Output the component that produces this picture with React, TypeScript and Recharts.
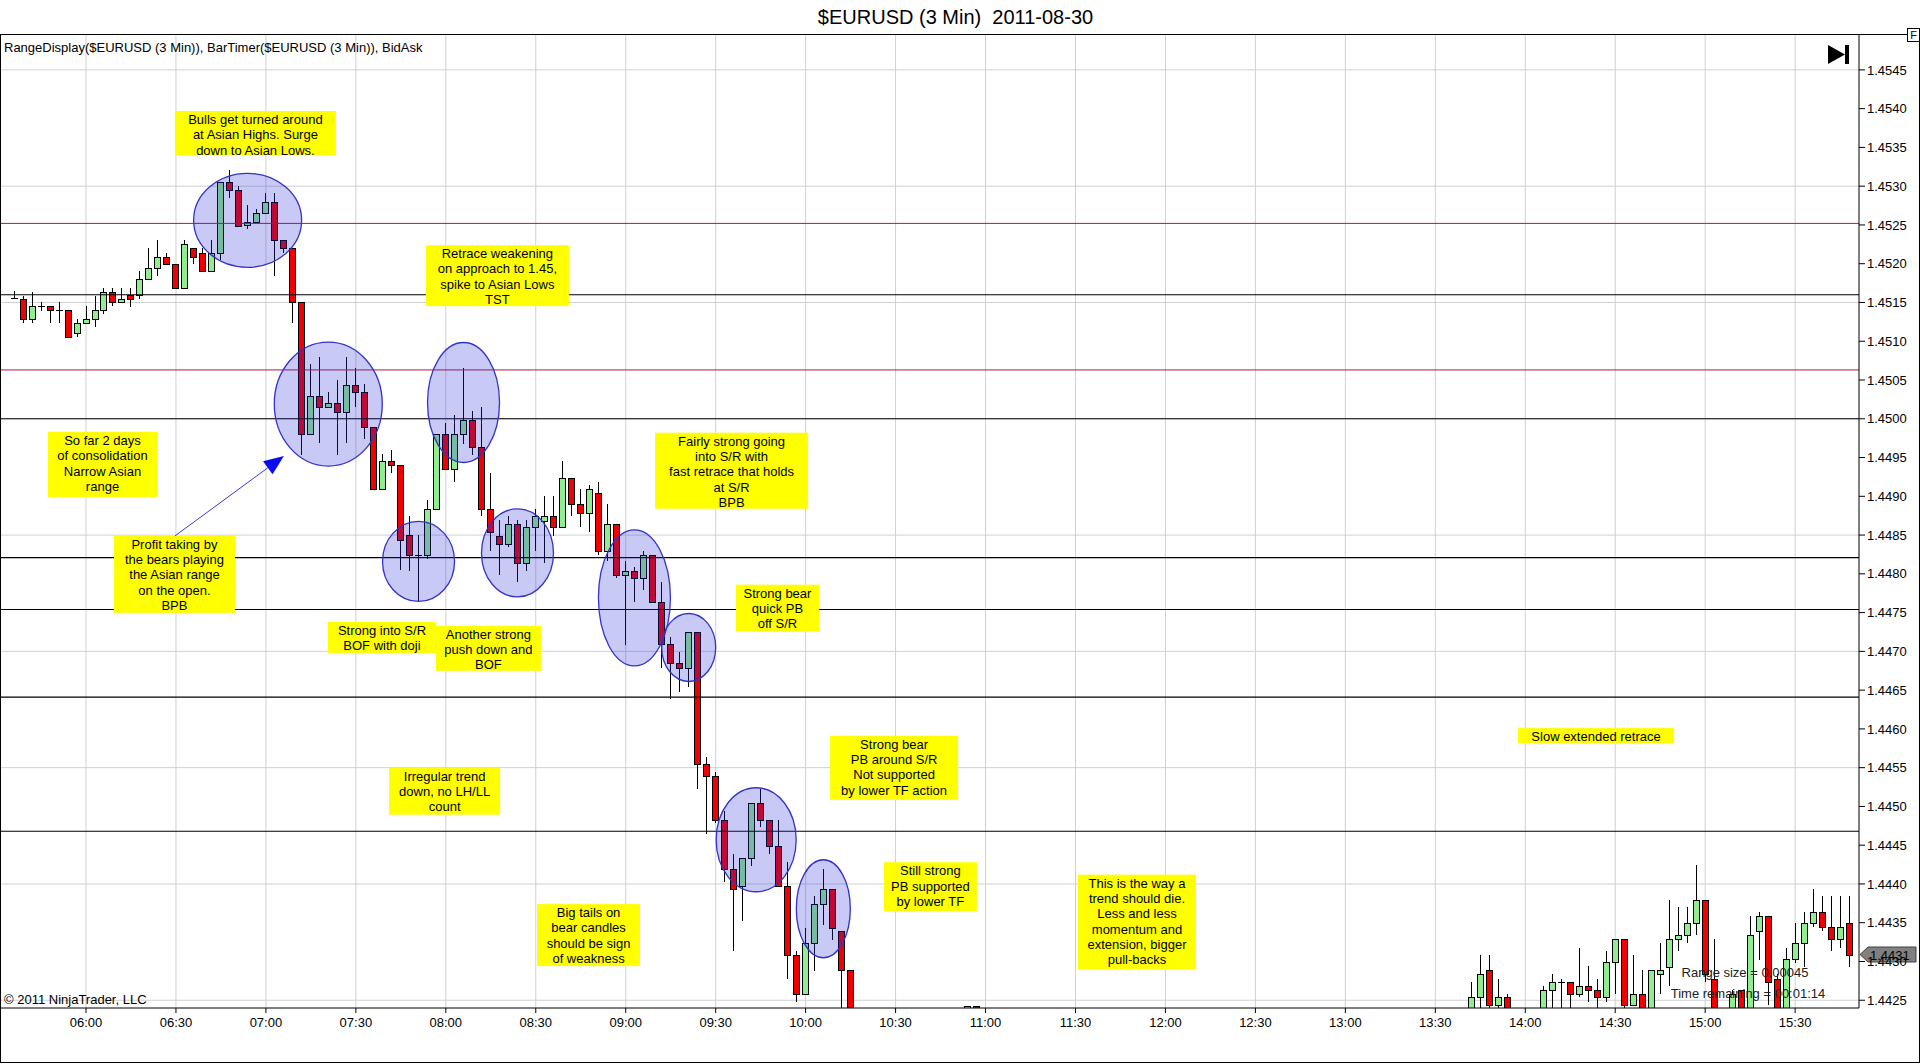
import React from "react";
import {
  ComposedChart,
  Bar,
  XAxis,
  YAxis,
  CartesianGrid,
  ReferenceLine,
  ReferenceDot,
} from "recharts";

const FONT = "'Liberation Sans', Arial, sans-serif";
const GREEN = "#90ee90";
const RED = "#f00000";

// 3 min bars, stamped at bar close. Bars under the chart bottom (10:18-13:39) are not visible.
const times = [
  "05:36", "05:39", "05:42", "05:45", "05:48", "05:51", "05:54", "05:57",
  "06:00", "06:03", "06:06", "06:09", "06:12", "06:15", "06:18", "06:21", "06:24", "06:27",
  "06:30", "06:33", "06:36", "06:39", "06:42", "06:45", "06:48", "06:51", "06:54", "06:57",
  "07:00", "07:03", "07:06", "07:09", "07:12", "07:15", "07:18", "07:21", "07:24", "07:27",
  "07:30", "07:33", "07:36", "07:39", "07:42", "07:45", "07:48", "07:51", "07:54", "07:57",
  "08:00", "08:03", "08:06", "08:09", "08:12", "08:15", "08:18", "08:21", "08:24", "08:27",
  "08:30", "08:33", "08:36", "08:39", "08:42", "08:45", "08:48", "08:51", "08:54", "08:57",
  "09:00", "09:03", "09:06", "09:09", "09:12", "09:15", "09:18", "09:21", "09:24", "09:27",
  "09:30", "09:33", "09:36", "09:39", "09:42", "09:45", "09:48", "09:51", "09:54", "09:57",
  "10:00", "10:03", "10:06", "10:09", "10:12", "10:15",
  "10:54", "10:57",
  "13:42", "13:45", "13:48", "13:51", "13:54",
  "14:06", "14:09", "14:12", "14:15", "14:18", "14:21", "14:24", "14:27",
  "14:30", "14:33", "14:36", "14:39", "14:42", "14:45", "14:48", "14:51", "14:54", "14:57",
  "15:00", "15:03", "15:09", "15:12", "15:15", "15:18", "15:21", "15:24", "15:27",
  "15:30", "15:33", "15:36", "15:39", "15:42", "15:45", "15:48",
];

const opens = [
  1.45156, 1.45155, 1.45129, 1.45145, 1.45145, 1.4514, 1.4514, 1.4511,
  1.45124, 1.45129, 1.4514, 1.45164, 1.4515, 1.4516, 1.4516, 1.4518, 1.45195, 1.45209,
  1.452, 1.45169, 1.4522, 1.45214, 1.4519, 1.45214, 1.45305, 1.45295, 1.4525, 1.45254,
  1.45265, 1.4528, 1.4523, 1.4522, 1.4515, 1.4498, 1.4503, 1.45015, 1.4502, 1.45009,
  1.45044, 1.45034, 1.4499, 1.44909, 1.44945, 1.4494, 1.4485, 1.44824, 1.44824, 1.44884,
  1.4498, 1.44935, 1.4498, 1.44999, 1.44964, 1.44884, 1.44849, 1.44839, 1.44864, 1.44814,
  1.4486, 1.44868, 1.44874, 1.4486, 1.44924, 1.4489, 1.44879, 1.44904, 1.44829, 1.44864,
  1.44799, 1.44804, 1.44794, 1.44824, 1.44764, 1.4471, 1.44685, 1.44679, 1.44725, 1.44555,
  1.44539, 1.44483, 1.44419, 1.44398, 1.44433, 1.44504, 1.44483, 1.44449, 1.44398, 1.44308,
  1.44258, 1.44324, 1.44374, 1.44393, 1.44339, 1.44289,
  1.44225, 1.44243,
  1.44232, 1.44254, 1.44289, 1.44244, 1.44254,
  1.44235, 1.44263, 1.44273, 1.44273, 1.44258, 1.44269, 1.44263, 1.44254,
  1.44299, 1.44329, 1.44244, 1.44258, 1.44235, 1.44284, 1.44293, 1.44329, 1.44334, 1.44349,
  1.44379, 1.44278, 1.44235, 1.44263, 1.44235, 1.44339, 1.44359, 1.44278, 1.44235,
  1.44303, 1.44324, 1.44349, 1.44364, 1.44344, 1.44329, 1.44349,
];

const highs = [
  1.45165, 1.45159, 1.45164, 1.4515, 1.45145, 1.4515, 1.4514, 1.45129,
  1.45145, 1.45159, 1.45169, 1.45169, 1.45169, 1.45169, 1.4519, 1.4522, 1.4523, 1.45214,
  1.452, 1.4523, 1.4522, 1.4522, 1.4523, 1.45305, 1.45321, 1.453, 1.45276, 1.4527,
  1.45291, 1.45291, 1.4523, 1.4522, 1.4515, 1.45071, 1.4508, 1.45034, 1.4505, 1.4508,
  1.45065, 1.45045, 1.4499, 1.44954, 1.4496, 1.4494, 1.44874, 1.4485, 1.44895, 1.4498,
  1.44995, 1.45005, 1.45065, 1.4501, 1.45015, 1.4493, 1.44869, 1.44874, 1.44869, 1.44869,
  1.44884, 1.44901, 1.44901, 1.44945, 1.44924, 1.44909, 1.44914, 1.44919, 1.4489, 1.44864,
  1.44816, 1.44809, 1.44829, 1.44824, 1.4479, 1.44719, 1.44699, 1.44725, 1.44725, 1.44564,
  1.44545, 1.44494, 1.44439, 1.44433, 1.44504, 1.44523, 1.44483, 1.44483, 1.44428, 1.44314,
  1.44343, 1.44385, 1.44419, 1.44393, 1.44339, 1.44289,
  1.44243, 1.44243,
  1.44273, 1.44309, 1.44309, 1.44278, 1.44258,
  1.44269, 1.44284, 1.44278, 1.44273, 1.44318, 1.44294, 1.44278, 1.44314,
  1.44329, 1.44329, 1.44309, 1.44289, 1.44289, 1.44324, 1.44379, 1.4437, 1.4437, 1.44425,
  1.44379, 1.44329, 1.44263, 1.44263, 1.44359, 1.44364, 1.44359, 1.44284, 1.44318,
  1.44349, 1.44364, 1.44394, 1.44385, 1.44385, 1.44385, 1.44385,
];

const lows = [
  1.45155, 1.45124, 1.45124, 1.45139, 1.45124, 1.45124, 1.45105, 1.45105,
  1.45124, 1.45119, 1.45135, 1.45145, 1.4515, 1.45144, 1.45155, 1.4518, 1.45184, 1.452,
  1.45169, 1.45169, 1.452, 1.4519, 1.4519, 1.45205, 1.45285, 1.45249, 1.45245, 1.45254,
  1.45265, 1.45184, 1.45214, 1.45124, 1.44953, 1.4498, 1.44969, 1.45015, 1.44953, 1.44969,
  1.45015, 1.44974, 1.44909, 1.44909, 1.4493, 1.44805, 1.44804, 1.44765, 1.44819, 1.44884,
  1.44935, 1.44919, 1.44967, 1.44953, 1.44874, 1.44829, 1.44798, 1.44834, 1.44789, 1.44804,
  1.44829, 1.44814, 1.44849, 1.4486, 1.44874, 1.4486, 1.44854, 1.44824, 1.44816, 1.44794,
  1.44708, 1.44764, 1.44779, 1.44764, 1.44679, 1.44639, 1.44648, 1.44654, 1.44523, 1.44465,
  1.44478, 1.44403, 1.44313, 1.44352, 1.44423, 1.44473, 1.44438, 1.44398, 1.44278, 1.44248,
  1.44258, 1.44288, 1.44347, 1.44328, 1.4423, 1.4421,
  1.4421, 1.4421,
  1.44225, 1.44235, 1.44235, 1.44235, 1.4423,
  1.4423, 1.44235, 1.44235, 1.44235, 1.44254, 1.44248, 1.44235, 1.44248,
  1.44258, 1.44235, 1.44244, 1.4423, 1.4423, 1.44258, 1.44268, 1.44314, 1.44324, 1.44334,
  1.44274, 1.4423, 1.4423, 1.4423, 1.4423, 1.44302, 1.44244, 1.4423, 1.4423,
  1.44298, 1.44293, 1.44344, 1.44339, 1.44314, 1.44318, 1.44293,
];

const closes = [
  1.45156, 1.45129, 1.45145, 1.45145, 1.4514, 1.4514, 1.45105, 1.45124,
  1.45129, 1.4514, 1.45164, 1.4515, 1.45155, 1.45155, 1.4518, 1.45195, 1.45209, 1.452,
  1.45169, 1.45225, 1.45209, 1.4519, 1.45214, 1.45305, 1.45295, 1.45249, 1.45254, 1.45265,
  1.4528, 1.4523, 1.4522, 1.4515, 1.4498, 1.4503, 1.45015, 1.4502, 1.45009, 1.45044,
  1.45034, 1.4499, 1.44909, 1.44945, 1.4494, 1.44844, 1.44824, 1.44824, 1.44884, 1.4498,
  1.44935, 1.4498, 1.44999, 1.44964, 1.44884, 1.44854, 1.44839, 1.44864, 1.44814, 1.4486,
  1.44874, 1.44874, 1.4486, 1.44924, 1.4489, 1.44879, 1.44909, 1.44829, 1.44864, 1.44799,
  1.44804, 1.44794, 1.44824, 1.44764, 1.4471, 1.44685, 1.44679, 1.44725, 1.44555, 1.44539,
  1.44483, 1.44419, 1.44393, 1.44433, 1.44504, 1.44483, 1.44449, 1.44398, 1.44308, 1.44258,
  1.44324, 1.44374, 1.44393, 1.44343, 1.44289, 1.4422,
  1.44243, 1.4422,
  1.44254, 1.44284, 1.44244, 1.44254, 1.44235,
  1.44263, 1.44273, 1.44273, 1.44258, 1.44269, 1.44263, 1.44254, 1.44299,
  1.44329, 1.44244, 1.44258, 1.44235, 1.44289, 1.44289, 1.44329, 1.44334, 1.44349, 1.44379,
  1.44284, 1.44235, 1.44258, 1.44235, 1.44334, 1.44359, 1.44273, 1.44235, 1.44303,
  1.44324, 1.44349, 1.44364, 1.44344, 1.44329, 1.44344, 1.44309,
];

const timeTicks = [
  "06:00", "06:30", "07:00", "07:30", "08:00", "08:30", "09:00", "09:30", "10:00", "10:30",
  "11:00", "11:30", "12:00", "12:30", "13:00", "13:30", "14:00", "14:30", "15:00", "15:30",
];

const priceTicks = [
  1.4425, 1.443, 1.4435, 1.444, 1.4445, 1.445, 1.4455, 1.446, 1.4465, 1.447, 1.4475, 1.448, 1.4485,
  1.449, 1.4495, 1.45, 1.4505, 1.451, 1.4515, 1.452, 1.4525, 1.453, 1.4535, 1.454, 1.4545,
];
const gridPrices = [1.4425, 1.444, 1.4455, 1.447, 1.4485, 1.45, 1.4515, 1.453, 1.4545];

// hand drawn S/R lines
const srLevels = [1.4516, 1.45, 1.44821, 1.44754, 1.44641, 1.44468];
const asianLevels = [1.45252, 1.45063];

// circled areas: centre (time, price), radii in px
const highlights = [
  { at: "06:53:54", price: 1.45256, rx: 54, ry: 47 },
  { at: "07:20:48", price: 1.45019, rx: 54, ry: 62 },
  { at: "07:50:54", price: 1.44816, rx: 36, ry: 40 },
  { at: "08:05:54", price: 1.45021, rx: 36, ry: 60 },
  { at: "08:23:54", price: 1.44827, rx: 36, ry: 44 },
  { at: "09:02:54", price: 1.44769, rx: 36, ry: 68 },
  { at: "09:21:00", price: 1.44705, rx: 27, ry: 34 },
  { at: "09:43:30", price: 1.44457, rx: 40, ry: 52 },
  { at: "10:05:54", price: 1.44368, rx: 27, ry: 49 },
];

// yellow notes: top centre (time, price), box size in px
const notes = [
  { at: "06:56:30", price: 1.45397, w: 161, h: 44, lines: ["Bulls get turned around", "at Asian Highs. Surge", "down to Asian Lows."] },
  { at: "08:17:12", price: 1.45224, w: 143, h: 61, lines: ["Retrace weakening", "on approach to 1.45,", "spike to Asian Lows", "TST"] },
  { at: "06:05:30", price: 1.44983, w: 109, h: 65, lines: ["So far 2 days", "of consolidation", "Narrow Asian", "range"] },
  { at: "06:29:30", price: 1.44849, w: 121, h: 77, lines: ["Profit taking by", "the bears playing", "the Asian range", "on the open.", "BPB"] },
  { at: "07:38:42", price: 1.44738, w: 108, h: 31, lines: ["Strong into S/R", "BOF with doji"] },
  { at: "08:14:12", price: 1.44733, w: 105, h: 45, lines: ["Another strong", "push down and", "BOF"] },
  { at: "09:35:18", price: 1.44982, w: 153, h: 76, lines: ["Fairly strong going", "into S/R with", "fast retrace that holds", "at S/R", "BPB"] },
  { at: "09:50:36", price: 1.44786, w: 83, h: 47, lines: ["Strong bear", "quick PB", "off S/R"] },
  { at: "10:29:30", price: 1.44591, w: 128, h: 64, lines: ["Strong bear", "PB around S/R", "Not supported", "by lower TF action"] },
  { at: "07:59:36", price: 1.4455, w: 111, h: 47, lines: ["Irregular trend", "down, no LH/LL", "count"] },
  { at: "10:41:36", price: 1.44428, w: 93, h: 49, lines: ["Still strong", "PB supported", "by lower TF"] },
  { at: "08:47:36", price: 1.44374, w: 103, h: 62, lines: ["Big tails on", "bear candles", "should be sign", "of weakness"] },
  { at: "11:50:30", price: 1.44412, w: 118, h: 95, lines: ["This is the way a", "trend should die.", "Less and less", "momentum and", "extension, bigger", "pull-backs"] },
  { at: "14:23:36", price: 1.44601, w: 156, h: 15, lines: ["Slow extended retrace"] },
];

const arrowFrom = { at: "06:29:42", price: 1.44849 };
const arrowTo = { at: "07:06:00", price: 1.44952 };

const toMin = (s: string) => {
  const [h, m, sec] = s.split(":").map(Number);
  return h * 60 + m + (sec || 0) / 60;
};
const fmtTime = (v: number) => {
  const h = Math.floor(v / 60);
  const m = Math.round(v - h * 60);
  return `${String(h).padStart(2, "0")}:${String(m).padStart(2, "0")}`;
};

const candles = times.map((time, i) => ({
  t: toMin(time),
  open: opens[i],
  high: highs[i],
  low: lows[i],
  close: closes[i],
}));

const lastClose = closes[closes.length - 1];
const xDomain = [331.65, 951.3];
const yDomain = [1.4424, 1.45495];

function Candle(props: any) {
  const { x, y, width, height, payload } = props;
  if (!payload || x == null || y == null) return null;
  const { open, high, low, close } = payload;
  const top = Math.min(y, y + height);
  const bottom = Math.max(y, y + height);
  const k = high > low ? (bottom - top) / (high - low) : 0;
  const py = (v: number) => top + (high - v) * k;
  const cx = Math.floor(x + width / 2) + 0.5;
  const bTop = Math.round(py(Math.max(open, close))) + 0.5;
  const bBot = Math.round(py(Math.min(open, close))) + 0.5;
  return (
    <g shapeRendering="crispEdges">
      <line x1={cx} x2={cx} y1={top} y2={bottom} stroke="#000" />
      {open === close ? (
        <line x1={cx - 3.5} x2={cx + 3.5} y1={bTop} y2={bTop} stroke="#000" />
      ) : (
        <rect
          x={cx - 3}
          y={bTop}
          width={6}
          height={Math.max(bBot - bTop, 1)}
          fill={close > open ? GREEN : RED}
          stroke="#000"
        />
      )}
    </g>
  );
}

function Arrow(props: any) {
  const { x1, y1, x2, y2 } = props;
  const dx = x2 - x1;
  const dy = y2 - y1;
  const len = Math.sqrt(dx * dx + dy * dy) || 1;
  const ux = dx / len;
  const uy = dy / len;
  const bx = x2 - ux * 20;
  const by = y2 - uy * 20;
  const head = `${x2},${y2} ${bx - uy * 8},${by + ux * 8} ${bx + uy * 8},${by - ux * 8}`;
  return (
    <g>
      <line x1={x1} y1={y1} x2={bx} y2={by} stroke="#3a3ae0" strokeWidth={1} />
      <polygon points={head} fill="#0a0af5" />
    </g>
  );
}

export default function App() {
  return (
    <div
      style={{
        position: "absolute",
        left: 0,
        top: 0,
        width: 1920,
        height: 1064,
        background: "#fff",
        fontFamily: FONT,
        overflow: "hidden",
      }}
    >
      <div
        style={{
          position: "absolute",
          left: 0,
          top: 6,
          width: 1911,
          textAlign: "center",
          fontSize: 20,
          lineHeight: "23px",
          whiteSpace: "pre",
        }}
      >
        {"$EURUSD (3 Min)  2011-08-30"}
      </div>
      <div
        style={{
          position: "absolute",
          left: 0,
          top: 34,
          width: 1920,
          height: 1029,
          border: "1px solid #000",
          boxSizing: "border-box",
        }}
      />
      <div style={{ position: "absolute", left: 0, top: 0 }}>
        <ComposedChart
          width={1920}
          height={1064}
          data={candles}
          margin={{ top: 35, right: 3, bottom: 26, left: 1 }}
          style={{ fontFamily: FONT }}
        >
          <CartesianGrid
            stroke="#d0d0d0"
            horizontalValues={gridPrices}
            verticalValues={timeTicks.map(toMin)}
          />
          <XAxis
            dataKey="t"
            type="number"
            domain={xDomain}
            allowDataOverflow
            ticks={timeTicks.map(toMin)}
            interval={0}
            tickFormatter={fmtTime}
            height={30}
            tickSize={5}
            tickMargin={5}
            stroke="#000"
            tick={{ fill: "#000", fontSize: 13, fontFamily: FONT }}
          />
          <YAxis
            orientation="right"
            type="number"
            domain={yDomain}
            allowDataOverflow
            ticks={priceTicks}
            interval={0}
            tickFormatter={(v: number) => v.toFixed(4)}
            width={58}
            tickSize={6}
            stroke="#000"
            tick={{ fill: "#000", fontSize: 13, fontFamily: FONT }}
          />
          {asianLevels.map((p) => (
            <ReferenceLine key={`a${p}`} y={p} stroke="#b3173f" strokeWidth={1} />
          ))}
          {srLevels.map((p) => (
            <ReferenceLine key={`s${p}`} y={p} stroke="#000" strokeWidth={1.2} />
          ))}
          <Bar
            dataKey={(d: any) => [d.low, d.high]}
            barSize={7}
            isAnimationActive={false}
            shape={(p: any) => <Candle {...p} />}
          />
          {highlights.map((h, i) => (
            <ReferenceDot
              key={`h${i}`}
              x={toMin(h.at)}
              y={h.price}
              r={2}
              ifOverflow="visible"
              zIndex={1500}
              shape={(p: any) => (
                <ellipse
                  cx={p.cx}
                  cy={p.cy}
                  rx={h.rx}
                  ry={h.ry}
                  fill="rgb(40,40,220)"
                  fillOpacity={0.25}
                  stroke="#3333cc"
                  strokeWidth={1.3}
                />
              )}
            />
          ))}
          {notes.map((n, i) => (
            <ReferenceDot
              key={`n${i}`}
              x={toMin(n.at)}
              y={n.price}
              r={2}
              ifOverflow="visible"
              zIndex={1600}
              shape={(p: any) => (
                <g>
                  <rect x={p.cx - n.w / 2} y={p.cy} width={n.w} height={n.h} fill="#ffff00" />
                  {n.lines.map((ln, j) => (
                    <text
                      key={j}
                      x={p.cx}
                      y={p.cy + 13 + j * 15.3}
                      textAnchor="middle"
                      fontSize={13}
                      fontFamily={FONT}
                      fill="#000"
                    >
                      {ln}
                    </text>
                  ))}
                </g>
              )}
            />
          ))}
          <ReferenceLine
            segment={[
              { x: toMin(arrowFrom.at), y: arrowFrom.price },
              { x: toMin(arrowTo.at), y: arrowTo.price },
            ]}
            ifOverflow="visible"
            zIndex={1600}
            shape={(p: any) => <Arrow {...p} />}
          />
          <ReferenceDot
            x={xDomain[1]}
            y={lastClose}
            r={2}
            ifOverflow="visible"
            zIndex={1700}
            shape={(p: any) => (
              <g>
                <polygon
                  points={`${p.cx + 1},${p.cy} ${p.cx + 9},${p.cy - 7.5} ${p.cx + 57},${p.cy - 7.5} ${p.cx + 57},${p.cy + 7.5} ${p.cx + 9},${p.cy + 7.5}`}
                  fill="#808080"
                  stroke="#404040"
                />
                <text x={p.cx + 11} y={p.cy + 5} fontSize={13} fontFamily={FONT} fill="#000">
                  {lastClose.toFixed(4)}
                </text>
              </g>
            )}
          />
        </ComposedChart>
      </div>
      <div style={{ position: "absolute", left: 4, top: 40, fontSize: 13, lineHeight: "16px", whiteSpace: "pre" }}>
        RangeDisplay($EURUSD (3 Min)), BarTimer($EURUSD (3 Min)), BidAsk
      </div>
      <div style={{ position: "absolute", left: 4, top: 992, fontSize: 13, lineHeight: "16px" }}>
        © 2011 NinjaTrader, LLC
      </div>
      <div
        style={{
          position: "absolute",
          left: 1645,
          top: 965,
          width: 200,
          textAlign: "center",
          fontSize: 13,
          lineHeight: "16px",
          color: "#202020",
        }}
      >
        Range size = 0.00045
      </div>
      <div
        style={{
          position: "absolute",
          left: 1648,
          top: 986,
          width: 200,
          textAlign: "center",
          fontSize: 13,
          lineHeight: "16px",
          color: "#202020",
        }}
      >
        Time remaining = 00:01:14
      </div>
      <svg style={{ position: "absolute", left: 1826, top: 43 }} width={26} height={24}>
        <polygon points="2,2 19,11.5 2,21" fill="#000" />
        <rect x={19} y={2} width={4} height={19} fill="#000" />
      </svg>
      <div
        style={{
          position: "absolute",
          left: 1907,
          top: 28,
          width: 13,
          height: 14,
          border: "1px solid #000",
          boxSizing: "border-box",
          background: "#fff",
          fontSize: 11,
          lineHeight: "12px",
          textAlign: "center",
        }}
      >
        F
      </div>
    </div>
  );
}
